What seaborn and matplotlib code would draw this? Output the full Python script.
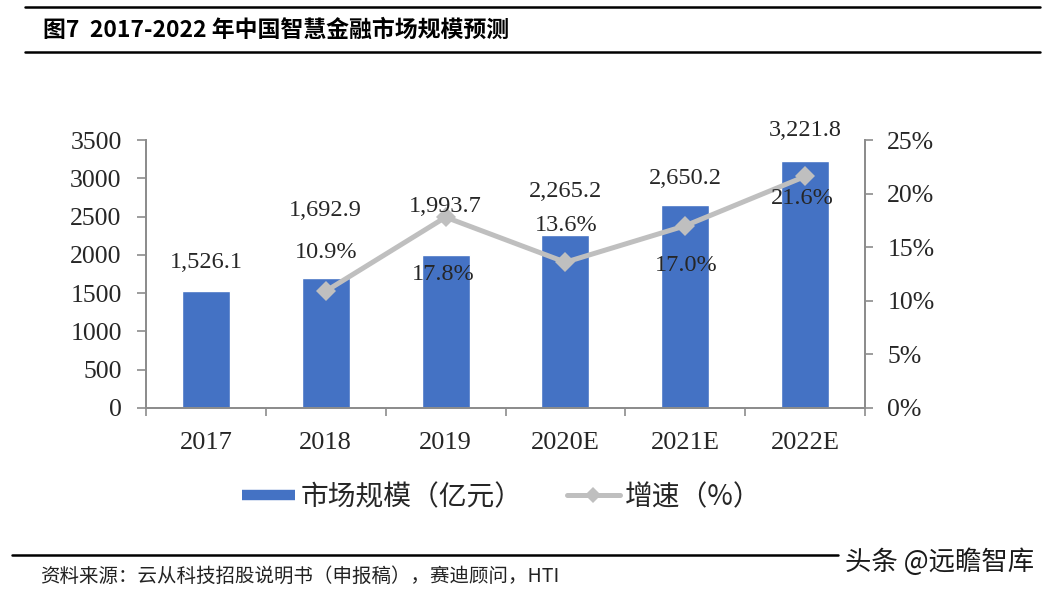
import matplotlib
matplotlib.use("Agg")
import matplotlib.pyplot as plt
from matplotlib.lines import Line2D
import seaborn as sns

# ---------------- data ----------------
years = ["2017", "2018", "2019", "2020E", "2021E", "2022E"]
market_size = [1526.1, 1692.9, 1993.7, 2265.2, 2650.2, 3221.8]
growth_years = ["2018", "2019", "2020E", "2021E", "2022E"]
growth_pct = [10.9, 17.8, 13.6, 17.0, 21.6]
size_labels = ["1,526.1", "1,692.9", "1,993.7", "2,265.2", "2,650.2", "3,221.8"]
growth_labels = ["10.9%", "17.8%", "13.6%", "17.0%", "21.6%"]
left_ticks = [0, 500, 1000, 1500, 2000, 2500, 3000, 3500]
right_ticks = [0, 5, 10, 15, 20, 25]

title = "图7  2017-2022 年中国智慧金融市场规模预测"
legend_bar = "市场规模（亿元）"
legend_line = "增速（%）"
source = "资料来源：云从科技招股说明书（申报稿），赛迪顾问，HTI"
watermark = "头条 @远瞻智库"

# ---------------- style ----------------
BAR = "#4472C4"
LINE = "#BFBFBF"
AX = "#8C8C8C"
TXT = "#262626"
SERIF = "Liberation Serif"
CJK = ["Noto Sans CJK SC", "DejaVu Sans"]

# label offsets in pixels (label centre relative to mark)
size_label_dy = [29, 68, 49, 43, 27, 31]
growth_label_dy = [39, -57, 37, -40, -22]
growth_label_dx = [0, -2, 1, 1, -3]

sns.set_theme(style="white")
plt.rcParams["font.family"] = CJK

fig = plt.figure(figsize=(10.55, 5.95), dpi=100)
ax = fig.add_axes([146 / 1055, 1 - 408 / 595, (865 - 146) / 1055, (408 - 140) / 595])

sns.barplot(x=years, y=market_size, color=BAR, saturation=1, width=0.4, ax=ax, zorder=2)
ax.set_xlim(-0.5, len(years) - 0.5)
ax.set_ylim(0, 3500)
ax.set_xlabel("")
ax.set_ylabel("")

ax2 = ax.twinx()
gx = [years.index(g) for g in growth_years]
sns.lineplot(x=gx, y=growth_pct, ax=ax2, color=LINE, lw=3.6, marker="D",
             markersize=10, markeredgewidth=0, markerfacecolor=LINE, zorder=3)
ax2.set_ylim(0, 25)
ax2.set_xlim(-0.5, len(years) - 0.5)
ax2.set_ylabel("")

# spines
for a in (ax, ax2):
    a.spines["top"].set_visible(False)
    for s in ("left", "right", "bottom"):
        a.spines[s].set_color(AX)
        a.spines[s].set_linewidth(1.3)

# left axis ticks
ax.set_yticks(left_ticks)
ax.set_yticklabels([str(t) for t in left_ticks], fontfamily=SERIF, fontsize=18.5, color=TXT)
ax.tick_params(axis="y", which="major", direction="out", length=6.5, width=1.2,
               color=AX, pad=11, left=True)

# right axis ticks
ax2.set_yticks(right_ticks)
ax2.set_yticklabels([f"{t}%" for t in right_ticks], fontfamily=SERIF, fontsize=18.5, color=TXT)
ax2.tick_params(axis="y", which="major", direction="out", length=6, width=1.2,
                color=AX, pad=10, right=True)

# x axis: labels at centres, ticks at category boundaries
ax.set_xticks(range(len(years)))
ax.set_xticklabels(years, fontfamily=SERIF, fontsize=19, color=TXT)
ax.set_xticks([i - 0.5 for i in range(len(years) + 1)], minor=True)
ax.tick_params(axis="x", which="major", length=0, pad=17)
ax.tick_params(axis="x", which="minor", direction="out", length=5.5, width=1.2,
               color=AX, bottom=True)
ax2.tick_params(axis="x", which="both", length=0)
ax.grid(False)
ax2.grid(False)

# data labels
for i, (v, lab) in enumerate(zip(market_size, size_labels)):
    ax2.annotate(lab, xy=(i, v), xycoords=ax.transData, xytext=(0, size_label_dy[i]),
                 textcoords="offset pixels", ha="center", va="center",
                 fontfamily=SERIF, fontsize=17.5, color=TXT, zorder=5)
for j, (x, v, lab) in enumerate(zip(gx, growth_pct, growth_labels)):
    ax2.annotate(lab, xy=(x, v), xytext=(growth_label_dx[j], growth_label_dy[j]),
                 textcoords="offset pixels", ha="center", va="center",
                 fontfamily=SERIF, fontsize=17.5, color=TXT, zorder=5)

# legend
handles = [
    Line2D([0], [0], color=BAR, lw=7.5, solid_capstyle="butt"),
    Line2D([0], [0], color=LINE, lw=3.6, marker="D", markersize=8, markeredgewidth=0),
]
fig.legend(handles, [legend_bar, legend_line], loc="center", ncol=2,
           bbox_to_anchor=(502 / 1055, 1 - 497 / 595), frameon=False,
           prop={"family": CJK, "size": 20}, handlelength=1.9, handletextpad=0.2,
           columnspacing=1.6, labelcolor=TXT)

# title, rules, footer
fig.add_artist(Line2D([25 / 1055, 1040 / 1055], [1 - 7 / 595] * 2, color="black", lw=1.8,
                      transform=fig.transFigure))
fig.add_artist(Line2D([25 / 1055, 1040 / 1055], [1 - 52 / 595] * 2, color="black", lw=1.8,
                      transform=fig.transFigure))
fig.text(43 / 1055, 1 - 30 / 595, title, ha="left", va="center", fontsize=16.5,
         fontweight="bold", family=CJK, color="black")
fig.add_artist(Line2D([12 / 1055, 838 / 1055], [1 - 555 / 595] * 2, color="black", lw=1.8,
                      transform=fig.transFigure))
fig.text(40 / 1055, 1 - 576 / 595, source, ha="left", va="center", fontsize=14,
         family=CJK, color="#222222")
fig.text(845 / 1055, 1 - 562 / 595, watermark, ha="left", va="center", fontsize=19,
         family=CJK, color="#1a1a1a")

fig.savefig("out.png", dpi=100)
